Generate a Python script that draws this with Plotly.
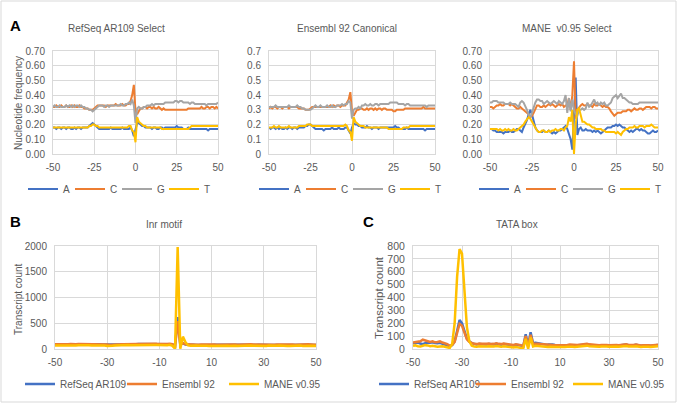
import plotly.graph_objects as go

W, H = 678, 409

# ---------------- data ----------------
POS = list(range(-50, 51))  # nucleotide position relative to TSS

NUC = ["A", "C", "G", "T"]
A_TITLES = ["RefSeq AR109 Select", "Ensembl 92 Canonical", "MANE  v0.95 Select"]
A_XTICKS = [-50, -25, 0, 25, 50]
BC_XTICKS = [-50, -30, -10, 10, 30, 50]

refseq_A = [0.18,0.18,0.17,0.18,0.18,0.17,0.18,0.18,0.17,0.18,
            0.18,0.17,0.17,0.18,0.17,0.18,0.18,0.17,0.18,0.18,
            0.18,0.18,0.19,0.20,0.21,0.20,0.19,0.18,0.17,0.17,
            0.17,0.17,0.17,0.17,0.17,0.18,0.17,0.17,0.17,0.17,
            0.17,0.17,0.18,0.17,0.17,0.17,0.17,0.18,0.16,0.12,
            0.17,0.21,0.21,0.20,0.19,0.19,0.18,0.18,0.18,0.18,
            0.17,0.18,0.18,0.17,0.17,0.18,0.18,0.17,0.18,0.18,
            0.18,0.18,0.18,0.18,0.18,0.19,0.18,0.18,0.18,0.17,
            0.17,0.17,0.18,0.17,0.17,0.17,0.17,0.17,0.17,0.17,
            0.17,0.17,0.17,0.17,0.16,0.17,0.17,0.17,0.17,0.17,0.17]
refseq_C = [0.32,0.32,0.33,0.32,0.32,0.33,0.32,0.32,0.33,0.32,
            0.32,0.33,0.32,0.33,0.32,0.32,0.33,0.32,0.32,0.31,
            0.31,0.31,0.30,0.30,0.30,0.31,0.32,0.33,0.33,0.33,
            0.33,0.33,0.32,0.33,0.33,0.33,0.33,0.33,0.34,0.33,
            0.33,0.33,0.34,0.33,0.33,0.34,0.34,0.36,0.40,0.47,
            0.29,0.27,0.29,0.31,0.31,0.32,0.32,0.31,0.32,0.32,
            0.31,0.32,0.31,0.31,0.32,0.31,0.30,0.31,0.30,0.30,
            0.30,0.30,0.30,0.30,0.30,0.30,0.30,0.30,0.30,0.30,
            0.30,0.30,0.31,0.31,0.31,0.31,0.31,0.31,0.31,0.31,
            0.32,0.31,0.31,0.32,0.32,0.31,0.32,0.32,0.31,0.32,0.31]
refseq_G = [0.32,0.33,0.32,0.32,0.33,0.32,0.32,0.32,0.33,0.32,
            0.33,0.32,0.33,0.32,0.33,0.33,0.32,0.33,0.32,0.32,
            0.31,0.31,0.30,0.30,0.29,0.30,0.31,0.32,0.33,0.33,
            0.33,0.32,0.33,0.33,0.32,0.33,0.33,0.33,0.33,0.33,
            0.33,0.34,0.33,0.33,0.34,0.34,0.35,0.34,0.37,0.33,
            0.21,0.31,0.32,0.31,0.31,0.32,0.32,0.33,0.33,0.33,
            0.34,0.33,0.34,0.34,0.34,0.34,0.34,0.34,0.35,0.35,
            0.35,0.35,0.35,0.35,0.36,0.36,0.35,0.36,0.36,0.35,
            0.35,0.35,0.35,0.34,0.35,0.35,0.34,0.34,0.34,0.34,
            0.34,0.34,0.34,0.33,0.34,0.34,0.34,0.34,0.34,0.34,0.35]
refseq_T = [0.18,0.18,0.18,0.18,0.18,0.18,0.18,0.18,0.18,0.18,
            0.18,0.18,0.18,0.18,0.18,0.18,0.18,0.18,0.18,0.18,
            0.18,0.18,0.19,0.19,0.20,0.20,0.19,0.19,0.18,0.18,
            0.18,0.18,0.18,0.18,0.18,0.18,0.18,0.18,0.18,0.18,
            0.18,0.18,0.18,0.18,0.18,0.18,0.19,0.19,0.16,0.15,
            0.08,0.25,0.22,0.21,0.20,0.19,0.19,0.18,0.18,0.18,
            0.18,0.18,0.18,0.18,0.18,0.18,0.17,0.17,0.17,0.17,
            0.17,0.17,0.17,0.17,0.17,0.17,0.17,0.17,0.17,0.17,
            0.17,0.17,0.17,0.18,0.19,0.19,0.19,0.19,0.19,0.19,
            0.19,0.19,0.19,0.19,0.19,0.19,0.19,0.19,0.19,0.19,0.19]

ensembl_A = [0.18,0.17,0.18,0.18,0.17,0.18,0.17,0.18,0.17,0.17,
             0.18,0.17,0.18,0.18,0.17,0.18,0.18,0.17,0.18,0.18,
             0.18,0.18,0.19,0.19,0.20,0.20,0.19,0.18,0.17,0.17,
             0.17,0.17,0.17,0.16,0.17,0.17,0.17,0.17,0.18,0.17,
             0.17,0.17,0.18,0.17,0.17,0.17,0.18,0.18,0.16,0.14,
             0.18,0.21,0.20,0.20,0.19,0.19,0.18,0.18,0.18,0.19,
             0.18,0.18,0.17,0.18,0.18,0.18,0.17,0.18,0.18,0.18,
             0.18,0.18,0.18,0.18,0.18,0.18,0.19,0.18,0.18,0.17,
             0.17,0.17,0.17,0.18,0.17,0.17,0.17,0.17,0.17,0.17,
             0.17,0.17,0.17,0.17,0.16,0.17,0.17,0.17,0.17,0.17,0.17]
ensembl_C = [0.31,0.32,0.31,0.32,0.32,0.31,0.32,0.32,0.31,0.32,
             0.32,0.32,0.31,0.32,0.32,0.32,0.32,0.32,0.31,0.31,
             0.31,0.31,0.30,0.30,0.30,0.31,0.32,0.32,0.32,0.32,
             0.32,0.32,0.32,0.32,0.32,0.32,0.32,0.33,0.32,0.33,
             0.32,0.33,0.33,0.32,0.33,0.33,0.33,0.35,0.37,0.42,
             0.29,0.26,0.28,0.30,0.30,0.31,0.31,0.30,0.30,0.31,
             0.30,0.31,0.31,0.30,0.31,0.30,0.31,0.31,0.30,0.31,
             0.31,0.30,0.30,0.30,0.30,0.29,0.29,0.30,0.30,0.30,
             0.30,0.30,0.31,0.31,0.31,0.31,0.31,0.31,0.31,0.31,
             0.31,0.31,0.31,0.32,0.31,0.31,0.31,0.31,0.31,0.31,0.31]
ensembl_G = [0.32,0.32,0.32,0.32,0.33,0.32,0.32,0.32,0.32,0.32,
             0.32,0.32,0.33,0.32,0.32,0.32,0.32,0.33,0.32,0.32,
             0.31,0.31,0.30,0.30,0.30,0.30,0.31,0.32,0.33,0.32,
             0.32,0.33,0.32,0.32,0.32,0.33,0.32,0.32,0.33,0.32,
             0.32,0.33,0.33,0.33,0.34,0.33,0.34,0.34,0.36,0.35,
             0.24,0.30,0.31,0.31,0.32,0.31,0.33,0.33,0.34,0.33,
             0.33,0.34,0.33,0.33,0.34,0.34,0.33,0.34,0.34,0.34,
             0.34,0.34,0.34,0.35,0.35,0.35,0.35,0.35,0.34,0.34,
             0.34,0.34,0.33,0.34,0.34,0.33,0.33,0.33,0.33,0.33,
             0.33,0.33,0.33,0.33,0.33,0.32,0.33,0.33,0.33,0.33,0.33]
ensembl_T = [0.18,0.18,0.18,0.19,0.18,0.18,0.19,0.18,0.18,0.18,
             0.18,0.18,0.19,0.18,0.18,0.18,0.18,0.18,0.19,0.19,
             0.19,0.19,0.19,0.20,0.20,0.20,0.19,0.19,0.19,0.19,
             0.19,0.19,0.19,0.19,0.19,0.19,0.19,0.19,0.19,0.19,
             0.19,0.19,0.19,0.19,0.19,0.19,0.20,0.19,0.16,0.15,
             0.09,0.25,0.22,0.21,0.20,0.19,0.19,0.19,0.18,0.18,
             0.18,0.18,0.18,0.18,0.18,0.18,0.18,0.18,0.18,0.18,
             0.18,0.18,0.17,0.17,0.17,0.17,0.17,0.17,0.17,0.17,
             0.17,0.18,0.18,0.18,0.18,0.19,0.19,0.19,0.19,0.19,
             0.19,0.19,0.19,0.19,0.19,0.19,0.19,0.19,0.19,0.19,0.19]

mane_A = [0.17,0.17,0.16,0.16,0.15,0.15,0.15,0.15,0.14,0.15,
          0.15,0.15,0.16,0.15,0.15,0.16,0.17,0.17,0.16,0.15,
          0.18,0.20,0.23,0.27,0.30,0.27,0.22,0.18,0.16,0.15,
          0.15,0.15,0.16,0.15,0.15,0.16,0.15,0.14,0.15,0.14,
          0.15,0.16,0.16,0.17,0.18,0.19,0.17,0.14,0.10,0.03,
          0.25,0.52,0.13,0.17,0.18,0.16,0.16,0.17,0.16,0.16,
          0.16,0.15,0.16,0.15,0.16,0.15,0.14,0.15,0.16,0.17,
          0.18,0.18,0.18,0.19,0.19,0.20,0.19,0.20,0.19,0.18,
          0.18,0.17,0.16,0.15,0.16,0.15,0.16,0.17,0.17,0.16,
          0.17,0.16,0.16,0.15,0.14,0.14,0.15,0.16,0.15,0.15,0.16]
mane_C = [0.32,0.32,0.31,0.32,0.33,0.33,0.34,0.33,0.33,0.34,
          0.34,0.34,0.33,0.34,0.33,0.32,0.31,0.31,0.32,0.31,
          0.30,0.29,0.28,0.27,0.25,0.26,0.28,0.31,0.33,0.33,
          0.32,0.32,0.33,0.32,0.33,0.34,0.33,0.34,0.33,0.32,
          0.33,0.34,0.33,0.34,0.32,0.33,0.33,0.38,0.30,0.40,
          0.63,0.24,0.30,0.32,0.33,0.34,0.33,0.33,0.34,0.33,
          0.33,0.32,0.34,0.33,0.33,0.34,0.33,0.32,0.33,0.32,
          0.32,0.31,0.29,0.27,0.26,0.27,0.28,0.28,0.28,0.29,
          0.29,0.29,0.30,0.30,0.29,0.30,0.31,0.30,0.30,0.31,
          0.31,0.30,0.31,0.32,0.32,0.32,0.31,0.32,0.32,0.31,0.31]
mane_G = [0.35,0.35,0.36,0.36,0.36,0.35,0.35,0.35,0.35,0.34,
          0.34,0.34,0.35,0.34,0.34,0.34,0.33,0.32,0.35,0.36,
          0.35,0.33,0.30,0.27,0.25,0.28,0.32,0.35,0.37,0.37,
          0.36,0.36,0.34,0.35,0.36,0.35,0.34,0.35,0.36,0.35,
          0.34,0.36,0.35,0.34,0.36,0.40,0.28,0.38,0.29,0.37,
          0.30,0.27,0.26,0.30,0.30,0.31,0.30,0.31,0.35,0.32,
          0.33,0.35,0.37,0.34,0.35,0.33,0.35,0.34,0.35,0.33,
          0.33,0.34,0.35,0.38,0.39,0.40,0.38,0.40,0.41,0.38,
          0.38,0.37,0.36,0.35,0.35,0.34,0.34,0.34,0.34,0.35,
          0.35,0.35,0.35,0.35,0.35,0.35,0.35,0.35,0.35,0.35,0.35]
mane_T = [0.17,0.17,0.17,0.17,0.17,0.16,0.17,0.16,0.16,0.17,
          0.16,0.17,0.16,0.16,0.17,0.16,0.16,0.17,0.18,0.19,
          0.20,0.22,0.24,0.25,0.24,0.22,0.19,0.17,0.16,0.15,
          0.15,0.16,0.16,0.15,0.15,0.16,0.15,0.16,0.16,0.17,
          0.16,0.16,0.17,0.17,0.16,0.18,0.19,0.25,0.22,0.30,
          0.00,0.20,0.30,0.31,0.26,0.22,0.22,0.21,0.20,0.20,
          0.19,0.18,0.18,0.17,0.17,0.17,0.17,0.16,0.16,0.15,
          0.15,0.15,0.15,0.15,0.15,0.14,0.15,0.14,0.13,0.15,
          0.16,0.17,0.17,0.18,0.18,0.18,0.19,0.18,0.18,0.19,
          0.19,0.19,0.18,0.19,0.19,0.19,0.20,0.19,0.18,0.18,0.18]

SETS = ["RefSeq AR109", "Ensembl 92", "MANE v0.95"]

inr_refseq = [85,82,88,90,84,86,92,88,85,87,
              90,88,85,87,84,86,89,91,88,86,
              80,75,82,85,88,84,86,90,92,88,
              90,92,95,94,96,98,100,98,95,92,
              90,88,92,90,95,90,55,620,85,110,
              85,80,82,84,80,78,82,85,80,78,
              80,82,78,80,84,82,80,78,82,80,
              78,82,84,80,82,85,80,78,82,84,
              80,78,82,80,76,80,82,78,80,76,
              78,80,76,80,82,78,80,84,82,80,78]
inr_ensembl = [90,88,95,92,88,92,96,90,92,95,
               95,92,90,94,90,92,95,96,92,90,
               85,80,86,90,92,90,94,96,98,95,
               98,100,102,100,104,106,110,108,104,100,
               96,94,98,96,100,95,60,540,90,115,
               90,86,88,90,86,84,88,90,86,84,
               86,88,84,86,90,88,86,84,88,86,
               84,88,90,86,88,92,86,84,88,90,
               86,84,88,86,82,86,88,84,86,82,
               84,86,82,86,88,84,86,90,88,86,84]
inr_mane = [70,68,72,75,70,66,72,70,68,72,
            75,72,70,72,68,70,74,72,70,68,
            60,55,62,66,70,68,72,75,78,74,
            76,78,80,78,82,84,86,84,80,78,
            75,72,78,74,80,60,5,1980,5,240,
            130,70,65,72,68,62,66,70,64,60,
            62,66,60,64,68,64,62,60,66,62,
            60,64,68,62,66,70,62,60,64,68,
            64,60,66,62,58,64,66,60,62,58,
            60,64,58,62,66,60,64,68,66,62,60]

tata_refseq = [45,48,50,42,38,45,50,48,52,46,
               44,48,42,38,32,20,30,60,140,225,
               200,130,80,60,45,40,35,38,36,34,
               35,38,34,36,40,36,34,38,36,32,
               30,28,32,30,28,20,115,25,130,45,
               48,45,40,38,36,34,36,34,32,30,
               32,30,28,30,32,30,28,30,32,34,
               36,34,32,30,28,26,28,30,32,30,
               28,30,32,30,28,30,32,34,30,28,
               30,32,28,26,28,30,28,26,28,30,32]
tata_ensembl = [50,52,55,60,72,65,58,55,60,52,
                55,60,50,45,38,25,32,55,120,195,
                180,120,75,55,45,40,38,42,40,38,
                40,42,38,40,44,40,38,42,40,36,
                34,32,36,34,30,22,100,20,110,40,
                42,40,38,36,34,32,34,32,30,30,
                30,28,30,32,34,32,30,32,34,36,
                38,40,36,34,30,28,30,32,34,32,
                30,32,34,32,30,32,34,36,32,30,
                32,34,30,28,30,32,30,28,30,32,34]
tata_mane = [25,28,22,20,25,30,28,22,25,20,
             18,20,22,18,12,8,40,200,560,775,
             740,450,170,60,25,20,18,22,20,18,
             20,22,18,20,24,20,18,22,20,16,
             15,12,16,14,10,5,80,3,90,20,
             25,22,20,18,16,15,18,16,14,15,
             16,14,16,18,20,18,16,18,20,22,
             24,26,22,20,18,16,18,20,22,20,
             18,20,22,20,18,20,22,24,20,18,
             20,22,18,16,18,20,18,16,18,20,22]

A_DATA = [[refseq_A, refseq_C, refseq_G, refseq_T],
          [ensembl_A, ensembl_C, ensembl_G, ensembl_T],
          [mane_A, mane_C, mane_G, mane_T]]
INR = [inr_refseq, inr_ensembl, inr_mane]
TATA = [tata_refseq, tata_ensembl, tata_mane]

for grp in A_DATA + [INR, TATA]:
    for s in grp:
        assert len(s) == len(POS), len(s)

# ---------------- style ----------------
NUC_COLORS = ["#4472C4", "#ED7D31", "#A5A5A5", "#FFC000"]
SET_COLORS = ["#4472C4", "#ED7D31", "#FFC000"]
FONT = "Liberation Sans, Arial, sans-serif"
TXT = "#595959"
GRID = "#d9d9d9"


def px_x(p):
    return p / W


def px_y(p):
    return 1 - p / H


def hyphen_labels(vals):
    return [str(v) for v in vals]


fig = go.Figure()

# panel A
A_XDOM = [(53, 218), (269, 435), (490, 658)]
for i in range(3):
    ax = "" if i == 0 else str(i + 1)
    leg = "legend" if i == 0 else "legend%d" % (i + 1)
    for j, nuc in enumerate(NUC):
        fig.add_trace(go.Scatter(
            x=POS, y=A_DATA[i][j], mode="lines", name=nuc,
            line=dict(color=NUC_COLORS[j], width=2),
            xaxis="x" + ax, yaxis="y" + ax, legend=leg, hoverinfo="skip"))

# panel B and C
for k, (data, ax) in enumerate([(INR, "4"), (TATA, "5")]):
    leg = "legend%d" % (4 + k)
    for j, name in enumerate(SETS):
        fig.add_trace(go.Scatter(
            x=POS, y=data[j], mode="lines", name=name,
            line=dict(color=SET_COLORS[j], width=2.5),
            xaxis="x" + ax, yaxis="y" + ax, legend=leg, hoverinfo="skip"))

axis_common = dict(showgrid=True, gridcolor=GRID, gridwidth=1, zeroline=False,
                   showline=True, mirror=True, linecolor=GRID, linewidth=1,
                   ticks="", tickfont=dict(family=FONT, size=10, color=TXT),
                   fixedrange=True)

layout = dict(
    width=W, height=H, margin=dict(l=0, r=0, t=0, b=0, autoexpand=False),
    paper_bgcolor="white", plot_bgcolor="white", showlegend=True,
    font=dict(family=FONT, color=TXT, size=10),
)

Y_TOP_A, Y_BOT_A = 51, 154
for i, (x0, x1) in enumerate(A_XDOM):
    sfx = "" if i == 0 else str(i + 1)
    anc = "y" + sfx
    layout["xaxis" + sfx] = dict(axis_common, domain=[px_x(x0), px_x(x1)], anchor=anc,
                                  range=[-50, 50], tickvals=A_XTICKS,
                                  ticktext=hyphen_labels(A_XTICKS),
                                  ticklabelstandoff=4)
    yfmt = ".2f" if i != 1 else ""
    layout["yaxis" + sfx] = dict(axis_common, domain=[px_y(Y_BOT_A), px_y(Y_TOP_A)],
                                  anchor="x" + sfx, range=[0, 0.7], dtick=0.1,
                                  tickformat=yfmt, ticklabelstandoff=5)

B_DOM, C_DOM = (55, 316), (413, 658)
Y_TOP_B, Y_BOT_B = 246, 349
layout["xaxis4"] = dict(axis_common, domain=[px_x(B_DOM[0]), px_x(B_DOM[1])], anchor="y4",
                        range=[-50, 50], tickvals=BC_XTICKS,
                        ticktext=hyphen_labels(BC_XTICKS), ticklabelstandoff=4)
layout["yaxis4"] = dict(axis_common, domain=[px_y(Y_BOT_B), px_y(Y_TOP_B)], anchor="x4",
                        range=[0, 2000], dtick=500, ticklabelstandoff=5)
layout["xaxis5"] = dict(axis_common, domain=[px_x(C_DOM[0]), px_x(C_DOM[1])], anchor="y5",
                        range=[-50, 50], tickvals=BC_XTICKS,
                        ticktext=hyphen_labels(BC_XTICKS), ticklabelstandoff=4)
layout["yaxis5"] = dict(axis_common, domain=[px_y(Y_BOT_B), px_y(Y_TOP_B)], anchor="x5",
                        range=[0, 800], dtick=100, ticklabelstandoff=5,
                        tickfont=dict(family=FONT, size=10.5, color=TXT))

# legends
leg_common = dict(orientation="h", xanchor="left", yanchor="middle",
                  bgcolor="rgba(0,0,0,0)", font=dict(family=FONT, size=10, color=TXT),
                  itemclick=False, itemdoubleclick=False, entrywidthmode="pixels")
LEG_POS = [("legend", 23, 189, 2), ("legend2", 254, 189, 2), ("legend3", 474, 189, 2),
           ("legend4", 20, 384, 57), ("legend5", 374, 384, 52)]
for name, lx, ly, ew in LEG_POS:
    layout[name] = dict(leg_common, x=px_x(lx), y=px_y(ly), entrywidth=ew)

fig.update_layout(**layout)

# annotations: panel letters, titles, axis titles
ann = []


def add_text(text, x, y, size=10, bold=False, angle=0, color=TXT):
    ann.append(dict(text=("<b>%s</b>" % text) if bold else text, x=px_x(x), y=px_y(y),
                    xref="paper", yref="paper", showarrow=False,
                    xanchor="center", yanchor="middle", textangle=angle,
                    font=dict(family=FONT, size=size, color=color)))


add_text("A", 15, 26, size=15, bold=True, color="black")
add_text("B", 15, 222, size=15, bold=True, color="black")
add_text("C", 368, 222, size=15, bold=True, color="black")
add_text(A_TITLES[0], 116, 29)
add_text(A_TITLES[1], 347, 29)
add_text(A_TITLES[2], 567, 29)
add_text("Inr motif", 164, 224)
add_text("TATA box", 517, 224)
add_text("Nucleotide frequency", 18, 103, angle=-90)
add_text("Transcript count", 18, 299, angle=-90)
add_text("Transcript count", 379, 298, size=11.5, angle=-90)

fig.update_layout(annotations=ann)

fig.add_shape(type="rect", xref="paper", yref="paper",
              x0=px_x(1), x1=px_x(676), y0=px_y(402), y1=px_y(1),
              line=dict(color=GRID, width=1), layer="below")

# remove the default 8px page margin so the figure fills the 678x409 window
fig.write_html("out.html", config={"displayModeBar": False, "staticPlot": True},
               post_script="document.body.style.margin='0';document.body.style.overflow='hidden';")
